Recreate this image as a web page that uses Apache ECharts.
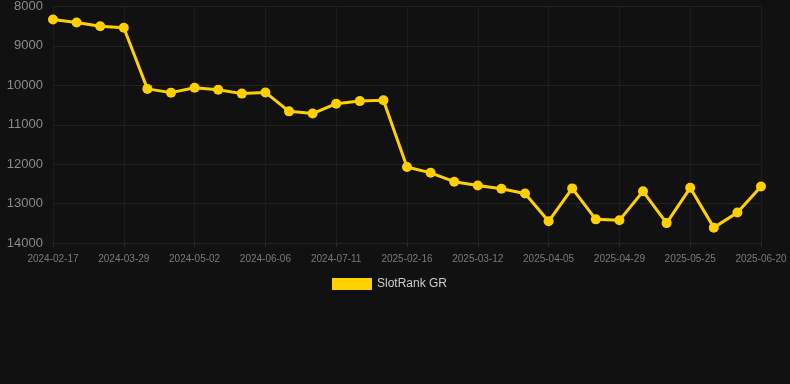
<!DOCTYPE html>
<html>
<head>
<meta charset="utf-8">
<script src="https://cdn.jsdelivr.net/npm/echarts@6/dist/echarts.min.js"></script>
<style>
  html, body { margin: 0; padding: 0; background: #111111; }
  #chart { width: 790px; height: 384px; }
</style>
</head>
<body>
<div id="chart"></div>
<script>
var dates = [
    '2024-02-17', '2024-03-01', '2024-03-15', '2024-03-29', '2024-04-10', '2024-04-21',
    '2024-05-02', '2024-05-14', '2024-05-25', '2024-06-06', '2024-06-18', '2024-06-29',
    '2024-07-11', '2024-07-23', '2024-08-04', '2025-02-16', '2025-02-24', '2025-03-04',
    '2025-03-12', '2025-03-20', '2025-03-28', '2025-04-05', '2025-04-13', '2025-04-21',
    '2025-04-29', '2025-05-07', '2025-05-16', '2025-05-25', '2025-06-03', '2025-06-11',
    '2025-06-20'
];
var ranks = [
    8330, 8405, 8500, 8540, 10090, 10185,
    10060, 10110, 10210, 10180, 10660, 10715,
    10465, 10400, 10380, 12070, 12220, 12445,
    12540, 12625, 12745, 13450, 12615, 13400,
    13425, 12690, 13495, 12600, 13610, 13225,
    12565
];
var seriesName = 'SlotRank GR';

var chart = echarts.init(document.getElementById('chart'), null, { renderer: 'canvas' });

var option = {
    backgroundColor: '#111111',
    animation: false,
    grid: { left: 53, right: 29, top: 6, bottom: 141, containLabel: false },
    legend: {
        data: [seriesName],
        top: 273,
        left: 327,
        itemWidth: 40,
        itemHeight: 12,
        icon: 'rect',
        textStyle: { color: '#cccccc', fontSize: 12, fontFamily: 'Liberation Sans' }
    },
    xAxis: {
        type: 'category',
        data: dates,
        boundaryGap: false,
        axisLine: { show: false },
        axisTick: { show: true, alignWithLabel: true, interval: 2, length: 4, lineStyle: { color: '#2a2a2a' } },
        axisLabel: { interval: 2, color: '#7a7a7a', fontSize: 10, margin: 11, fontFamily: 'Liberation Sans' },
        splitLine: { show: true, interval: 2, lineStyle: { color: '#1c1c1c' } }
    },
    yAxis: {
        type: 'value',
        inverse: true,
        min: 8000,
        max: 14000,
        interval: 1000,
        axisLine: { show: false },
        axisTick: { show: false },
        axisLabel: {
            color: '#8a8a8a', fontSize: 13, margin: 10, fontFamily: 'Liberation Sans',
            formatter: function (value) { return String(value); }
        },
        splitLine: { lineStyle: { color: '#222222' } }
    },
    series: [{
        name: seriesName,
        type: 'line',
        data: ranks,
        color: '#ffd000',
        symbol: 'circle',
        symbolSize: 10,
        lineStyle: { width: 3, color: '#ffd000' },
        itemStyle: { color: '#ffd000' }
    }]
};

chart.setOption(option);
window.addEventListener('resize', chart.resize);
</script>
</body>
</html>
